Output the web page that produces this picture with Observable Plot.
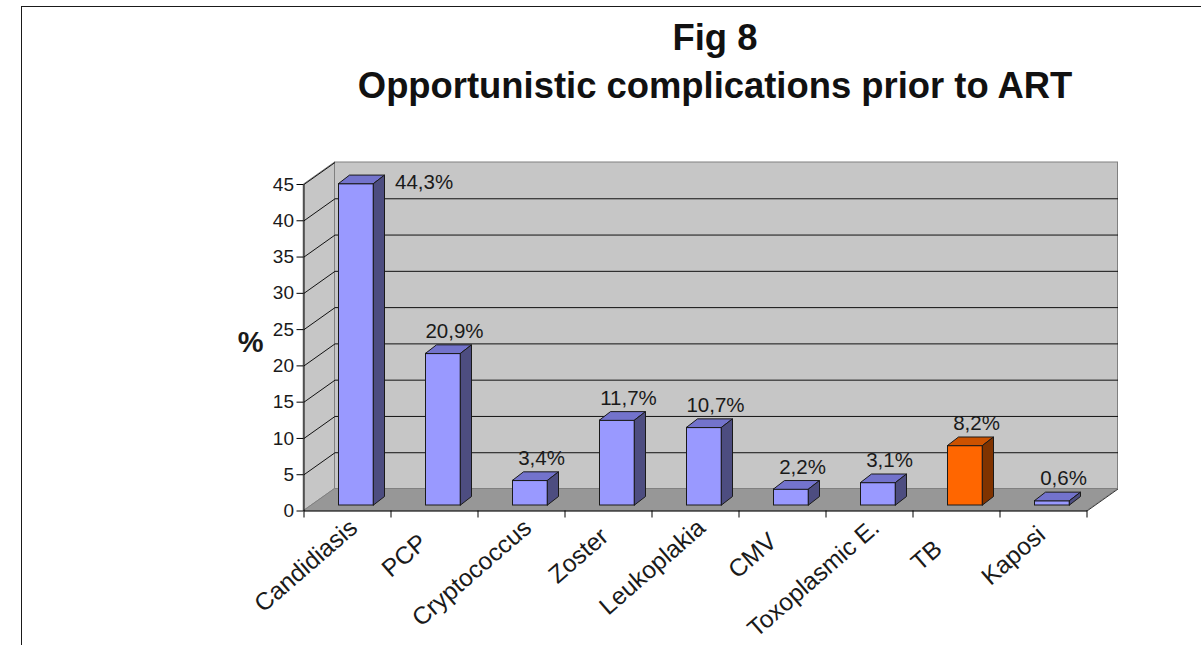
<!DOCTYPE html>
<html>
<head>
<meta charset="utf-8">
<script src="https://cdn.jsdelivr.net/npm/d3@7"></script>
<script src="https://cdn.jsdelivr.net/npm/@observablehq/plot@0.6"></script>
<style>
  html, body { margin: 0; padding: 0; background: #fff; width: 1201px; height: 645px; overflow: hidden; }
  body { position: relative; font-family: Arial, "Liberation Sans", sans-serif; }
  #frame { position: absolute; left: 21px; top: 6px; width: 1300px; height: 800px;
           border: 1.5px solid #1a1a1a; box-sizing: border-box; }
  #titles { position: relative; box-sizing: border-box; height: 120px; width: 970px; margin-left: 230px;
            padding-top: 14px; text-align: center; font-weight: bold; font-size: 36.4px; line-height: 48px; color: #111; }
  #chart { position: relative; }
  #chart svg { display: block; overflow: visible; }
</style>
</head>
<body>
<div id="frame"></div>
<div id="titles">
  <div>Fig 8</div>
  <div>Opportunistic complications prior to ART</div>
</div>
<div id="chart"></div>
<script>
// Opportunistic complications recorded before starting ART (% of patients)
const categories = ["Candidiasis", "PCP", "Cryptococcus", "Zoster", "Leukoplakia", "CMV", "Toxoplasmic E.", "TB", "Kaposi"];
const percentages = [44.3, 20.9, 3.4, 11.7, 10.7, 2.2, 3.1, 8.2, 0.6];
const highlighted = "TB";
const yTicks = [0, 5, 10, 15, 20, 25, 30, 35, 40, 45];
const yLabel = "%";

// ---- layout (pixels) ----
const W = 1201, H = 525;
const mL = 303.5, mR = 114.5, mT = 64, mB = 134.5;
const yMax = 45;
const n = categories.length;
const xu = (W - mL - mR) / n;          // px per category
const yu = (H - mT - mB) / yMax;       // px per percent
const px = v => v / xu, py = v => v / yu;  // pixel lengths -> data units

// box depth (walls and floor) and the bar solids
const wallDx = px(31), wallDy = py(22);
const barW = px(35), barShift = px(9), barLift = py(5.5), barDx = px(11), barDy = py(8.5);

const palette = {
  front: {base: "#9999ff", hi: "#ff6600"},
  top:   {base: "#7373cc", hi: "#cc5200"},
  side:  {base: "#4d4d80", hi: "#803300"}
};
const edge = "#1a1a1a";
const fmt = v => v.toFixed(1).replace(".", ",") + "%";

const bars = categories.map((name, i) => {
  const c = i + 0.5 + barShift;
  const tone = name === highlighted ? "hi" : "base";
  return {name, value: percentages[i], c, xl: c - barW / 2, xr: c + barW / 2,
          y0: barLift, y1: barLift + percentages[i], tone};
});

// parallelograms for the top and right faces
const topRows = bars.flatMap(b => [
  {k: b.name, tone: b.tone, y: b.y1, x1: b.xl, x2: b.xr},
  {k: b.name, tone: b.tone, y: b.y1 + barDy, x1: b.xl + barDx, x2: b.xr + barDx}
]);
const sideRows = bars.flatMap(b => [
  {k: b.name, tone: b.tone, x: b.xr, y1: b.y0, y2: b.y1},
  {k: b.name, tone: b.tone, x: b.xr + barDx, y1: b.y0 + barDy, y2: b.y1 + barDy}
]);

// walls, floor and grid
const leftWall = [{x: 0, y1: 0, y2: yMax}, {x: wallDx, y1: wallDy, y2: yMax + wallDy}];
const backWall = [{x1: wallDx, x2: n + wallDx, y1: wallDy, y2: yMax + wallDy}];
const floor = [{y: 0, x1: 0, x2: n}, {y: wallDy, x1: wallDx, x2: n + wallDx}];
const backGrid = yTicks.filter(t => t > 0 && t < yMax).map(t => ({y: t + wallDy, x1: wallDx, x2: n + wallDx}));
const sideGrid = yTicks.filter(t => t > 0).map(t => ({x1: 0, y1: t, x2: wallDx, y2: t + wallDy}));
const axisLines = [
  {x1: 0, y1: 0, x2: 0, y2: yMax},
  {x1: 0, y1: 0, x2: n, y2: 0}
];
const floorEdge = [{x1: n, y1: 0, x2: n + wallDx, y2: wallDy}];

// value labels: above the bar, or beside it when there is no room above
const labelGap = py(16);
const above = bars.filter(b => b.y1 + labelGap <= yMax)
  .map(b => ({x: b.c + px(11), y: b.y1 + labelGap, text: fmt(b.value)}));
const beside = bars.filter(b => b.y1 + labelGap > yMax)
  .map(b => ({x: b.xr + barDx + px(10), y: b.y1 - py(5), text: fmt(b.value)}));

// category labels, rotated; short names slide back along their baseline
const catFont = 24.5, catAngle = 41;
const cosA = Math.cos(catAngle * Math.PI / 180), sinA = Math.sin(catAngle * Math.PI / 180);
const ctx = document.createElement("canvas").getContext("2d");
ctx.font = `${catFont}px Arial, "Liberation Sans", sans-serif`;
const minLen = 96;
const catRows = categories.map((name, i) => {
  const len = ctx.measureText(name).width;
  const s = Math.max(0, minLen - len) / 2;
  return {name, x: i + 0.5 - px(s * cosA), y: -py(6) - py(s * sinA)};
});

const chart = Plot.plot({
  width: W, height: H,
  marginLeft: mL, marginRight: mR, marginTop: mT, marginBottom: mB,
  x: {type: "linear", domain: [0, n]},
  y: {type: "linear", domain: [0, yMax]},
  style: {fontFamily: 'Arial, "Liberation Sans", sans-serif', color: "#1a1a1a", background: "transparent"},
  marks: [
    Plot.areaY(leftWall, {x: "x", y1: "y1", y2: "y2", fill: "#c6c6c6", stroke: "#808080", strokeWidth: 1}),
    Plot.rect(backWall, {x1: "x1", x2: "x2", y1: "y1", y2: "y2", fill: "#c6c6c6", stroke: "#808080", strokeWidth: 1}),
    Plot.areaX(floor, {y: "y", x1: "x1", x2: "x2", fill: "#979797", stroke: "#808080", strokeWidth: 1}),
    Plot.link(backGrid, {x1: "x1", y1: "y", x2: "x2", y2: "y", stroke: "#111", strokeWidth: 1}),
    Plot.link(sideGrid, {x1: "x1", y1: "y1", x2: "x2", y2: "y2", stroke: "#111", strokeWidth: 1}),
    Plot.link(axisLines, {x1: "x1", y1: "y1", x2: "x2", y2: "y2", stroke: "#000", strokeWidth: 1}),
    Plot.link(floorEdge, {x1: "x1", y1: "y1", x2: "x2", y2: "y2", stroke: "#333", strokeWidth: 1}),
    Plot.axisY({ticks: yTicks, tickSize: 7, tickPadding: 3, fontSize: 19, label: null, stroke: "#000"}),
    Plot.axisX({ticks: d3.range(0, n + 1), tickSize: 7, tickFormat: () => "", label: null, stroke: "#000"}),
    // bars: front, top and side faces
    Plot.rect(bars, {x1: "xl", x2: "xr", y1: "y0", y2: "y1",
      fill: d => palette.front[d.tone], stroke: edge, strokeWidth: 1}),
    Plot.areaX(topRows, {y: "y", x1: "x1", x2: "x2", z: "k",
      fill: d => palette.top[d.tone], stroke: edge, strokeWidth: 1}),
    Plot.areaY(sideRows, {x: "x", y1: "y1", y2: "y2", z: "k",
      fill: d => palette.side[d.tone], stroke: edge, strokeWidth: 1}),
    // value labels
    Plot.text(above, {x: "x", y: "y", text: "text", lineAnchor: "bottom", fontSize: 20.5, fill: "#1a1a1a"}),
    Plot.text(beside, {x: "x", y: "y", text: "text", textAnchor: "start", lineAnchor: "bottom", fontSize: 20.5, fill: "#1a1a1a"}),
    // category labels
    Plot.text(catRows, {x: "x", y: "y", text: "name", rotate: -catAngle, textAnchor: "end",
      lineAnchor: "top", fontSize: catFont, fill: "#1a1a1a"}),
    // y-axis title
    Plot.text([yLabel], {frameAnchor: "left", dx: -40.5, dy: -5, text: d => d, textAnchor: "end",
      fontSize: 29, fontWeight: "bold", fill: "#1a1a1a"})
  ]
});
document.getElementById("chart").append(chart);
</script>
</body>
</html>
